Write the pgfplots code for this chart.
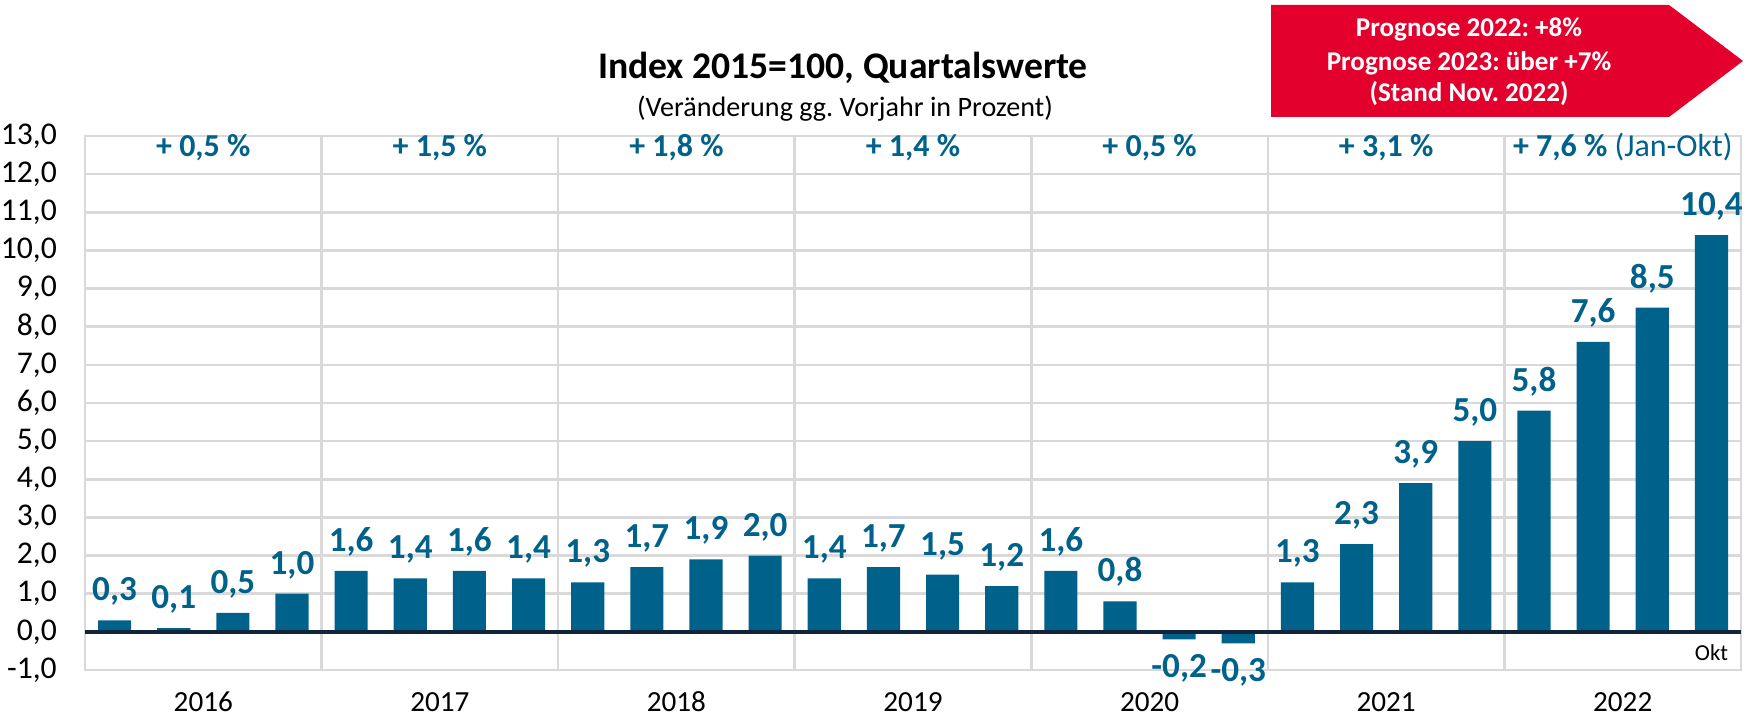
\documentclass[border=0pt]{standalone}
\usepackage{pgfplots}
\usepackage{pgfplotstable}
\pgfplotsset{compat=1.18}
\usepackage{fontspec}
\setmainfont{Carlito}
\definecolor{barblue}{RGB}{0,97,139}
\definecolor{gridgray}{RGB}{217,217,217}
\definecolor{zeronavy}{RGB}{16,37,60}
\definecolor{promored}{RGB}{227,0,45}

% quarter index (0 = Q1 2016), change vs previous year in %
\pgfplotstableread{
q val
0 0.3
1 0.1
2 0.5
3 1.0
4 1.6
5 1.4
6 1.6
7 1.4
8 1.3
9 1.7
10 1.9
11 2.0
12 1.4
13 1.7
14 1.5
15 1.2
16 1.6
17 0.8
18 -0.2
19 -0.3
20 1.3
21 2.3
22 3.9
23 5.0
24 5.8
25 7.6
26 8.5
27 10.4
}\quarters

\begin{document}
\frenchspacing
\begin{tikzpicture}
\useasboundingbox (0,0) rectangle (17.56,7.17);
\begin{axis}[
    at={(0.85cm,0.47cm)}, anchor=south west,
    scale only axis, width=16.56cm, height=5.34cm,
    xmin=-0.5, xmax=27.5, ymin=-1, ymax=13,
    ytick={-1,0,...,13},
    xtick={3.5,7.5,...,23.5}, xticklabels={},
    ymajorgrids, xmajorgrids,
    major tick length=0pt,
    grid style={gridgray, line width=0.7pt},
    axis line style={gridgray, line width=0.7pt},
    yticklabel style={font=\fontsize{9}{10}\selectfont, black, xshift=-4.5pt,
        /pgf/number format/.cd, use comma, fixed, fixed zerofill, precision=1, assume math mode=true},
    clip=false,
    ybar, bar width=0.56,
    nodes near coords={\pgfmathprintnumber[use comma, fixed, fixed zerofill, precision=1, assume math mode=true]{\pgfplotspointmeta}},
    every node near coord/.append style={font=\bfseries\fontsize{10}{11}\selectfont, color=barblue, inner ysep=4pt},
]
\addplot[fill=barblue, draw=none] table[x=q, y=val] {\quarters};
\draw[zeronavy, line width=1.2pt] (axis cs:-0.5,0) -- (axis cs:27.5,0);

% year labels
\node[anchor=base, font=\fontsize{8.3}{10}\selectfont] at (axis cs:1.5,-2.1) {2016};
\node[anchor=base, font=\fontsize{8.3}{10}\selectfont] at (axis cs:5.5,-2.1) {2017};
\node[anchor=base, font=\fontsize{8.3}{10}\selectfont] at (axis cs:9.5,-2.1) {2018};
\node[anchor=base, font=\fontsize{8.3}{10}\selectfont] at (axis cs:13.5,-2.1) {2019};
\node[anchor=base, font=\fontsize{8.3}{10}\selectfont] at (axis cs:17.5,-2.1) {2020};
\node[anchor=base, font=\fontsize{8.3}{10}\selectfont] at (axis cs:21.5,-2.1) {2021};
\node[anchor=base, font=\fontsize{8.3}{10}\selectfont] at (axis cs:25.5,-2.1) {2022};
\node[anchor=base, font=\fontsize{6.5}{8}\selectfont] at (axis cs:27,-0.75) {Okt};

% yearly averages
\node[anchor=base, barblue, font=\bfseries\fontsize{9.1}{10}\selectfont] at (axis cs:1.5,12.46) {+ 0,5 \%};
\node[anchor=base, barblue, font=\bfseries\fontsize{9.1}{10}\selectfont] at (axis cs:5.5,12.46) {+ 1,5 \%};
\node[anchor=base, barblue, font=\bfseries\fontsize{9.1}{10}\selectfont] at (axis cs:9.5,12.46) {+ 1,8 \%};
\node[anchor=base, barblue, font=\bfseries\fontsize{9.1}{10}\selectfont] at (axis cs:13.5,12.46) {+ 1,4 \%};
\node[anchor=base, barblue, font=\bfseries\fontsize{9.1}{10}\selectfont] at (axis cs:17.5,12.46) {+ 0,5 \%};
\node[anchor=base, barblue, font=\bfseries\fontsize{9.1}{10}\selectfont] at (axis cs:21.5,12.46) {+ 3,1 \%};
\node[anchor=base, barblue, font=\fontsize{9.1}{10}\selectfont] at (axis cs:25.5,12.46) {\textbf{+ 7,6 \%} (Jan-Okt)};
\end{axis}

% title
\node[anchor=base, font=\bfseries\fontsize{10.7}{12}\selectfont] at (8.43,6.38) {Index 2015=100, Quartalswerte};
\node[anchor=base, font=\fontsize{8}{10}\selectfont] at (8.45,6.00) {(Veränderung gg. Vorjahr in Prozent)};

% forecast arrow
\fill[promored] (12.71,7.12) -- (16.69,7.12) -- (17.43,6.56) -- (16.69,6.00) -- (12.71,6.00) -- cycle;
\node[anchor=base, white, font=\bfseries\fontsize{7.7}{9}\selectfont] at (14.69,6.80) {Prognose 2022: +8\%};
\node[anchor=base, white, font=\bfseries\fontsize{7.7}{9}\selectfont] at (14.69,6.46) {Prognose 2023: über +7\%};
\node[anchor=base, white, font=\bfseries\fontsize{7.7}{9}\selectfont] at (14.69,6.15) {(Stand Nov. 2022)};
\end{tikzpicture}
\end{document}
